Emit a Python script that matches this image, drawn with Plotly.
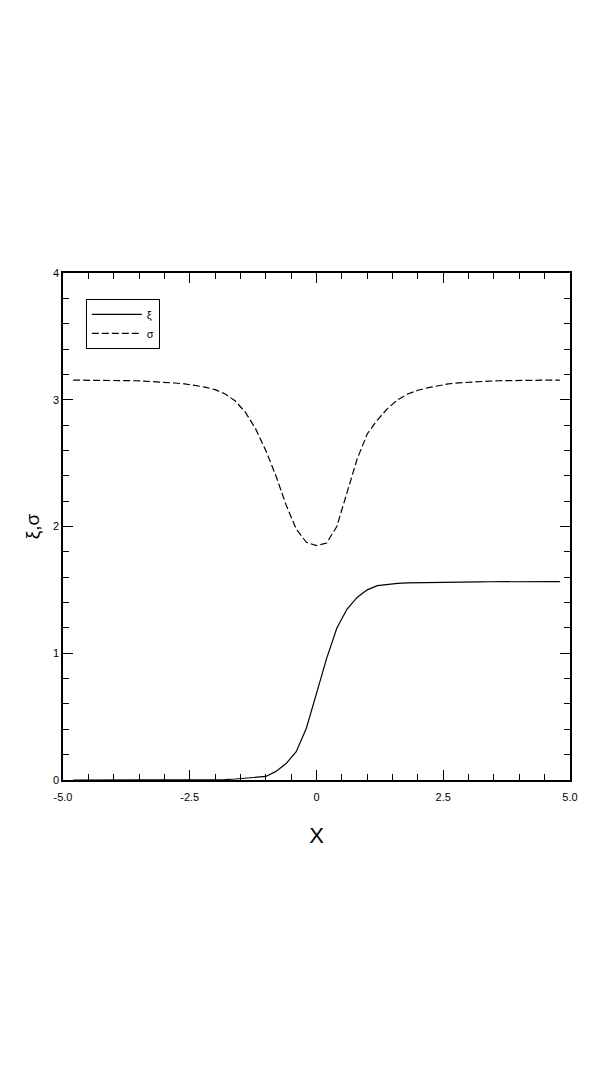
import plotly.graph_objects as go

# data
x = [-4.8, -4.6, -4.4, -4.2, -4.0, -3.8, -3.6, -3.4, -3.2, -3.0,
     -2.8, -2.6, -2.4, -2.2, -2.0, -1.8, -1.6, -1.4, -1.2, -1.0,
     -0.8, -0.6, -0.4, -0.2, 0.0, 0.2, 0.4, 0.6, 0.8, 1.0,
     1.2, 1.4, 1.6, 1.8, 2.0, 2.2, 2.4, 2.6, 2.8, 3.0,
     3.2, 3.4, 3.6, 3.8, 4.0, 4.2, 4.4, 4.6, 4.8]

xi = [0.0, 0.0, 0.0, 0.0, 0.0, 0.0, 0.0, 0.0, 0.0, 0.0,
      0.0, 0.0, 0.0, 0.001, 0.002, 0.004, 0.008, 0.013, 0.02, 0.028,
      0.068, 0.13, 0.223, 0.408, 0.684, 0.96, 1.197, 1.347, 1.44, 1.50,
      1.533, 1.545, 1.552, 1.555, 1.557, 1.559, 1.56, 1.561, 1.562, 1.563,
      1.563, 1.564, 1.564, 1.565, 1.565, 1.565, 1.565, 1.565, 1.565]

sigma = [3.155, 3.155, 3.155, 3.154, 3.153, 3.152, 3.15, 3.147, 3.143, 3.137,
         3.132, 3.125, 3.115, 3.10, 3.08, 3.045, 2.99, 2.90, 2.77, 2.60,
         2.40, 2.17, 1.98, 1.875, 1.85, 1.87, 2.00, 2.27, 2.53, 2.73,
         2.84, 2.93, 3.00, 3.045, 3.075, 3.095, 3.112, 3.125, 3.133, 3.139,
         3.143, 3.147, 3.15, 3.152, 3.153, 3.154, 3.155, 3.155, 3.155]

xtick_vals = [-5, -2.5, 0, 2.5, 5]
xtick_text = ['-5.0', '-2.5', '0', '2.5', '5.0']
ytick_vals = [0, 1, 2, 3, 4]

fnt = 'Liberation Sans Narrow, Liberation Sans, Arial, sans-serif'

fig = go.Figure()
fig.add_trace(go.Scatter(x=x, y=xi, mode='lines', name='ξ',
                         line=dict(color='black', width=1.2)))
fig.add_trace(go.Scatter(x=x, y=sigma, mode='lines', name='σ',
                         line=dict(color='black', width=1.2, dash='7px,3px')))

# page body has an 8px margin, so offsets are 8px smaller
fig.update_layout(
    width=590, height=1070,
    margin=dict(l=55, r=28, t=265, b=298),
    paper_bgcolor='white', plot_bgcolor='white',
    font=dict(family=fnt, size=11, color='black'),
    showlegend=True,
    legend=dict(x=0.045, y=0.949, xanchor='left', yanchor='top',
                bordercolor='black', borderwidth=1, bgcolor='white',
                font=dict(size=11), tracegroupgap=0, itemwidth=50),
    xaxis=dict(range=[-5, 5], tickvals=xtick_vals, ticktext=xtick_text,
               ticks='inside', ticklen=10, tickwidth=1, tickcolor='black',
               ticklabelstandoff=6,
               minor=dict(dtick=0.5, tick0=0, ticks='inside', ticklen=6,
                          tickcolor='black', tickwidth=1),
               showline=True, linecolor='black', linewidth=1.5, mirror='allticks',
               showgrid=False, zeroline=False,
               title=dict(text='X', font=dict(size=22, family=fnt), standoff=26)),
    yaxis=dict(range=[0, 4], tickvals=ytick_vals,
               ticks='inside', ticklen=10, tickwidth=1, tickcolor='black',
               minor=dict(dtick=0.2, tick0=0, ticks='inside', ticklen=6,
                          tickcolor='black', tickwidth=1),
               showline=True, linecolor='black', linewidth=1.5, mirror='allticks',
               showgrid=False, zeroline=False,
               title=dict(text='ξ,σ', font=dict(size=19, family=fnt), standoff=8)),
)

fig.write_html("out.html")
